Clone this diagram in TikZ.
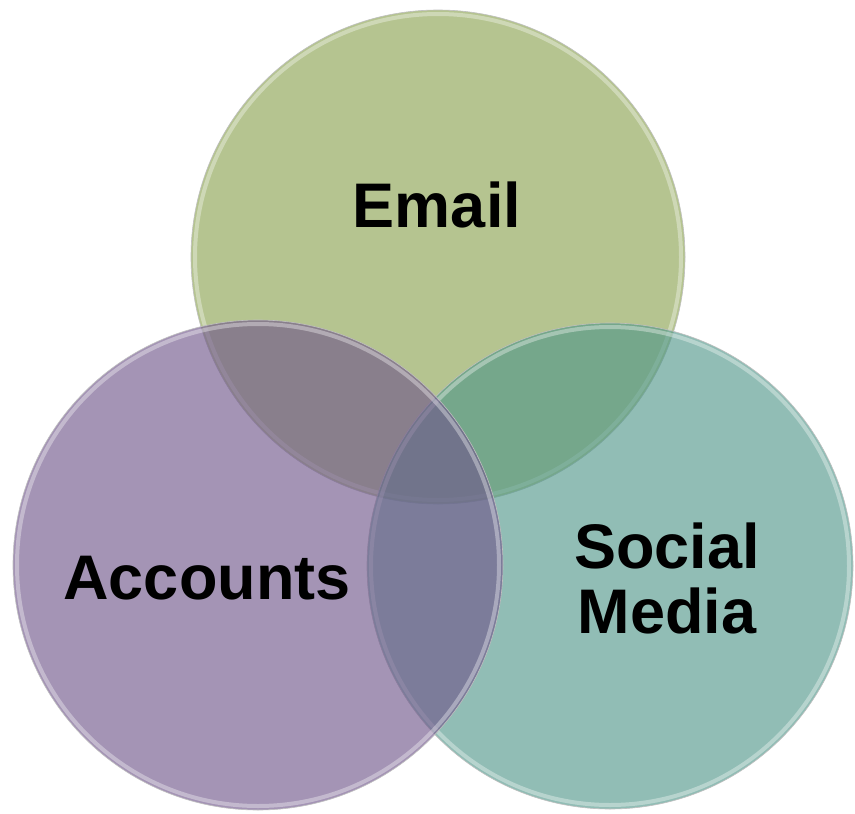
\documentclass[tikz,border=0pt]{standalone}
\usepackage{fontspec}
\setmainfont{Liberation Sans}
\definecolor{emailgreen}{RGB}{181,196,144}
\definecolor{socialteal}{RGB}{78,150,137}
\definecolor{acctpurple}{RGB}{112,87,139}
\tikzset{
  venn/.style={circle, inner sep=0pt, minimum size=#1, draw=gray!50, line width=0.6pt},
  rim/.style={draw=white, line width=4pt, opacity=0.35},
  vennlabel/.style={font=\bfseries\fontsize{63}{65}\selectfont, align=center, text=black}
}
\begin{document}
\begin{tikzpicture}[x=1pt,y=-1pt]
	\fill[white] (0,0) rectangle (855,814);
	
	\node[venn=494pt, fill=emailgreen] (email) at (438,257) {};
	\draw[rim] (email.center) circle[radius=243pt];
	
	\node[venn=486pt, fill=socialteal, fill opacity=0.62] (social) at (610,566) {};
	\draw[rim] (social.center) circle[radius=239pt];
	
	\node[venn=490pt, fill=acctpurple, fill opacity=0.63] (accounts) at (258,565) {};
	\draw[rim] (accounts.center) circle[radius=241pt];
	
	\node[vennlabel] (emailtext) at (437,205) {Email};
	\node[vennlabel] (accountstext) at (207,578) {Accounts};
	\node[vennlabel] (socialtext) at (667,578) {Social\\Media};
\end{tikzpicture}
\end{document}
